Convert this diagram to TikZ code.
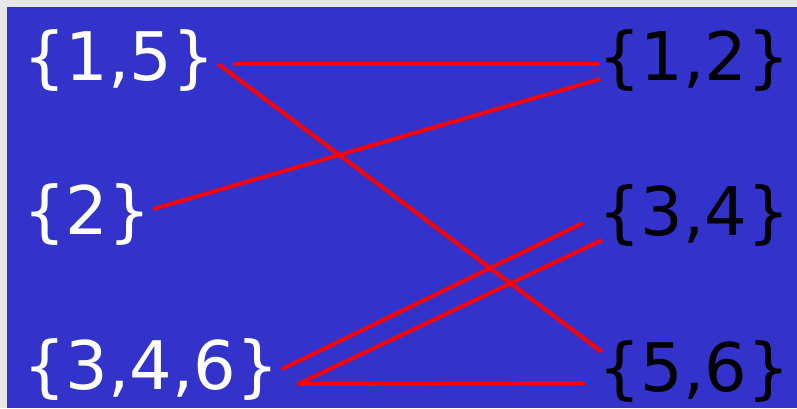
\documentclass[tikz,border=0pt]{standalone}
\usepackage{fontspec}
\setmainfont{DejaVu Sans}
\usepackage{xcolor}
\definecolor{slideblue}{RGB}{51,51,204}
\definecolor{marble}{RGB}{232,232,232}

\begin{document}
\begin{tikzpicture}[x=1pt, y=-1pt,
    set/.style={anchor=west, inner sep=0pt, font=\fontsize{67}{70}\selectfont},
    link/.style={red, line width=4pt, line cap=butt}]
\useasboundingbox (0,0) rectangle (797,408);
% Background
\fill[marble] (0,0) rectangle (797,408);
\fill[slideblue] (7,7) rectangle (797,408);

\node[set, text=white] (l15) at (23,61) {\{1,5\}};
\node[set, text=white] (l2) at (23,215) {\{2\}};
\node[set, text=white] (l346) at (23,370) {\{3,4,6\}};

\node[set, text=black] (r12) at (598,61) {\{1,2\}};
\node[set, text=black] (r34) at (598,216) {\{3,4\}};
\node[set, text=black] (r56) at (598,372) {\{5,6\}};

% Matching
\draw[link] ([shift={(18,3)}]l15.east) -- ([shift={(2,3)}]r12.west);
\draw[link] ([shift={(3,3)}]l15.east) -- ([shift={(4,-20)}]r56.west);
\draw[link] ([shift={(2,-6)}]l2.east) -- ([shift={(2,18)}]r12.west);
\draw[link] ([shift={(3,-1)}]l346.east) -- ([shift={(-15,7)}]r34.west);
\draw[link] ([shift={(19,14)}]l346.east) -- ([shift={(4,24)}]r34.west);
\draw[link] ([shift={(19,14)}]l346.east) -- ([shift={(-13,11)}]r56.west);
\end{tikzpicture}
\end{document}
